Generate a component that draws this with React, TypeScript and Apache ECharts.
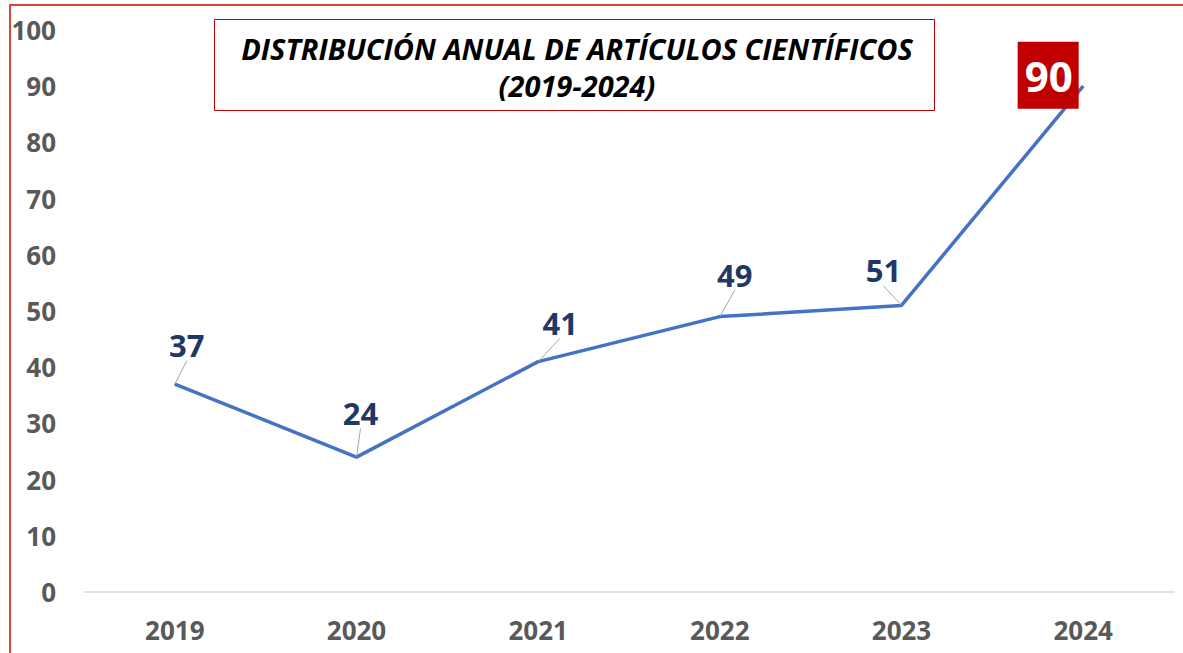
import React, { useEffect, useRef } from "react";
import * as echarts from "echarts";

const years = ["2019", "2020", "2021", "2022", "2023", "2024"];
const articles = [37, 24, 41, 49, 51, 90];
const titleLines = ["DISTRIBUCIÓN ANUAL DE ARTÍCULOS CIENTÍFICOS", "(2019-2024)"];

// label center offsets from each point (layout only)
const labelOffsets: [number, number][] = [
  [12, -39],
  [4, -44],
  [22, -39],
  [15, -42],
  [-18, -35],
  [-35, -11],
];

const FONT = "'Open Sans', 'Noto Sans', sans-serif";

export default function App() {
  const ref = useRef<HTMLDivElement>(null);
  useEffect(() => {
    if (!ref.current) return;
    const chart = echarts.init(ref.current, undefined, { renderer: "svg" });
    const last = articles.length - 1;
    chart.setOption({
      animation: false,
      backgroundColor: "#ffffff",
      textStyle: { fontFamily: FONT },
      grid: { left: 84, right: 9, top: 30, bottom: 61, containLabel: false },
      xAxis: {
        type: "category",
        data: years,
        boundaryGap: true,
        axisTick: { show: false },
        axisLine: { lineStyle: { color: "#d9d9d9", width: 1.5 } },
        axisLabel: {
          color: "#595959",
          fontSize: 26,
          fontWeight: "bold",
          fontFamily: FONT,
          margin: 25,
        },
      },
      yAxis: {
        type: "value",
        min: 0,
        max: 100,
        interval: 10,
        splitLine: { show: false },
        axisLine: { show: false },
        axisTick: { show: false },
        axisLabel: {
          color: "#595959",
          fontSize: 26,
          fontWeight: "bold",
          fontFamily: FONT,
          margin: 28,
        },
      },
      graphic: [
        {
          type: "rect",
          silent: true,
          shape: { x: 10, y: 5, width: 1300, height: 800 },
          style: { fill: "none", stroke: "#d9443f", lineWidth: 2 },
          z: 100,
        },
        {
          type: "rect",
          silent: true,
          shape: { x: 214.5, y: 19.5, width: 720, height: 91 },
          style: { fill: "#ffffff", stroke: "#c00000", lineWidth: 1 },
          z: 100,
        },
        {
          type: "text",
          silent: true,
          x: 577,
          y: 48,
          style: {
            text: titleLines[0],
            fontSize: 29,
            fontWeight: "bold",
            fontStyle: "italic",
            fontFamily: FONT,
            fill: "#000000",
            align: "center",
            verticalAlign: "middle",
          },
          z: 101,
        },
        {
          type: "text",
          silent: true,
          x: 577,
          y: 85,
          style: {
            text: titleLines[1],
            fontSize: 29,
            fontWeight: "bold",
            fontStyle: "italic",
            fontFamily: FONT,
            fill: "#000000",
            align: "center",
            verticalAlign: "middle",
          },
          z: 101,
        },
      ],
      series: [
        {
          type: "line",
          data: articles.map((v, i) =>
            i === last
              ? {
                  value: v,
                  label: {
                    color: "#ffffff",
                    backgroundColor: "#c00000",
                    fontSize: 42,
                    padding: [9, 6, 8, 7],
                    lineHeight: 50,
                  },
                  labelLine: { show: false },
                }
              : { value: v }
          ),
          symbol: "circle",
          symbolSize: 1,
          showSymbol: true,
          silent: true,
          lineStyle: { color: "#4472c4", width: 3.5 },
          itemStyle: { color: "#4472c4" },
          label: {
            show: true,
            position: "inside",
            color: "#1f3864",
            fontSize: 31,
            fontWeight: "bold",
            fontFamily: FONT,
          },
          labelLine: {
            show: true,
            lineStyle: { color: "#a6a6a6", width: 1 },
          },
          labelLayout: (params: any) => {
            const o = labelOffsets[params.dataIndex] || [0, 0];
            return { dx: o[0], dy: o[1] };
          },
          emphasis: { disabled: true },
        },
      ],
    });
    return () => chart.dispose();
  }, []);
  return (
    <div
      ref={ref}
      style={{ position: "fixed", left: 0, top: 0, width: 1183, height: 653 }}
    />
  );
}
